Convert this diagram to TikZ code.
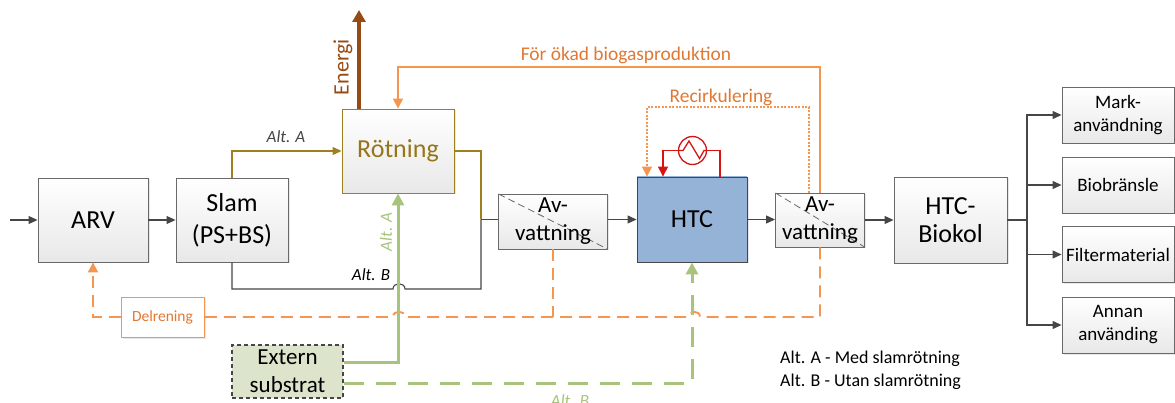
\documentclass[tikz,border=0pt]{standalone}
\usepackage{fontspec}
\setmainfont{Carlito}
\usetikzlibrary{arrows.meta,shadows}
\definecolor{bgray}{RGB}{105,105,105}
\definecolor{lgray}{RGB}{70,70,70}
\definecolor{gold}{RGB}{160,128,30}
\definecolor{goldtxt}{RGB}{150,118,25}
\definecolor{brownE}{RGB}{150,75,20}
\definecolor{orcol}{RGB}{244,150,80}
\definecolor{otxt}{RGB}{225,120,50}
\definecolor{grcol}{RGB}{168,196,124}
\definecolor{gfill}{RGB}{220,228,204}
\definecolor{htcblue}{RGB}{149,179,215}
\definecolor{hxred}{RGB}{215,20,20}
\tikzset{
  box/.style={draw=bgray, line width=0.9pt, top color=white, bottom color=black!9,
    align=center, inner sep=0pt,
    drop shadow={opacity=0.18,shadow xshift=1.5pt,shadow yshift=-1.5pt}},
  avbox/.style={box, path picture={\draw[bgray, line width=0.8pt, dash pattern=on 7pt off 4pt]
    (path picture bounding box.north west) -- (path picture bounding box.south east);}},
  arr/.style={-{Triangle[length=9pt,width=8pt]}},
  cline/.style={draw=lgray, line width=1.1pt},
  goldline/.style={draw=gold, line width=1.1pt},
  osolid/.style={draw=orcol, line width=1.5pt},
  odash/.style={draw=orcol, line width=1.9pt, dash pattern=on 12pt off 7pt},
  odot/.style={draw=orcol, line width=1.4pt, dash pattern=on 2pt off 1.5pt},
  gsolid/.style={draw=grcol, line width=3pt},
  gdash/.style={draw=grcol, line width=3pt, dash pattern=on 20pt off 12pt},
  hxline/.style={draw=hxred, line width=1.3pt},
  lbl/.style={inner sep=0pt},
}
\begin{document}
\begin{tikzpicture}[x=1pt,y=-1pt]
\useasboundingbox (0,0) rectangle (1175,403);
\fill[white] (0,0) rectangle (1175,403);

% main nodes
\node[box, minimum width=110pt, minimum height=84pt, font=\fontsize{26}{30}\selectfont] (arv) at (93,220) {ARV};
\node[box, minimum width=112pt, minimum height=84pt, font=\fontsize{26}{32}\selectfont] (slam) at (232,220) {Slam\\(PS+BS)};
\node[box, draw=gold, minimum width=112pt, minimum height=84pt, text=goldtxt, font=\fontsize{26}{30}\selectfont] (rot) at (398,151) {Rötning};
\node[avbox, minimum width=109pt, minimum height=55pt, font=\fontsize{23}{28}\selectfont] (av1) at (553,221.5) {Av-\\vattning};
\node[box, fill=htcblue, top color=htcblue, bottom color=htcblue, draw=lgray, minimum width=110pt, minimum height=85pt, font=\fontsize{26}{30}\selectfont] (htc) at (692,219.5) {HTC};
\node[avbox, minimum width=89pt, minimum height=54pt, font=\fontsize{23}{28}\selectfont] (av2) at (820,220) {Av-\\vattning};
\node[box, minimum width=113pt, minimum height=86pt, font=\fontsize{26}{28}\selectfont] (bio) at (950.5,220) {HTC-\\Biokol};
\node[box, minimum width=112pt, minimum height=56pt, font=\fontsize{19}{23}\selectfont] (mark) at (1118,115) {Mark-\\användning};
\node[box, minimum width=112pt, minimum height=56pt, font=\fontsize{19}{23}\selectfont] (biob) at (1118,185) {Biobränsle};
\node[box, minimum width=112pt, minimum height=56pt, font=\fontsize{19}{23}\selectfont] (filt) at (1118,254.5) {Filtermaterial};
\node[box, minimum width=112pt, minimum height=56pt, font=\fontsize{19}{23}\selectfont] (annan) at (1118,325) {Annan\\använding};
\node[box, draw=orcol, text=otxt, top color=white, bottom color=white, minimum width=83pt, minimum height=40pt, font=\fontsize{15.5}{18}\selectfont] (delr) at (162.5,317) {Delrening};
\node[draw=lgray, line width=1.1pt, dash pattern=on 4pt off 3pt, fill=gfill, align=center, inner sep=0pt, minimum width=111pt, minimum height=53pt, font=\fontsize{23}{28}\selectfont] (ext) at (287.5,371.5) {Extern\\substrat};
\node[circle, draw=hxred, line width=1.3pt, minimum size=28pt, inner sep=0pt] (hx) at (692.5,150.5) {};

% coordinates
\coordinate (in) at (10,220);
\coordinate (jn) at (481,219.5);
\coordinate (br) at (1027,220);
\coordinate (fo1) at (820,67);
\coordinate (fo2) at (398,67);
\coordinate (rc1) at (809,107);
\coordinate (rc2) at (647,107);
\coordinate (hx1) at (720,150.5);
\coordinate (hx2) at (663,150.5);
\coordinate (ga) at (398,362);
\coordinate (gb) at (692,383);
\coordinate (en) at (359,10);

% gray flow
\draw[cline, arr] (in) -- (arv);
\draw[cline, arr] (arv) -- (slam);
\draw[goldline, arr] (slam.north) |- (rot.west);
\node[lbl, font=\fontsize{17}{20}\selectfont\itshape, text=lgray] (lA) at (286,137) {Alt. A};
\draw[goldline] (rot.east) -| (jn);
\draw[cline] (jn) -- (jn -| av1.west);
\draw[cline] (slam.south) -- (232,289) -- (393,289) .. controls (393,282) and (405,282) .. (405,289) -- (481,289) -- (jn);
\node[lbl, font=\fontsize{17}{20}\selectfont\itshape, text=black] (lB) at (371,275) {Alt. B};
\draw[cline, arr] (av1.east |- htc.west) -- (htc.west);
\draw[cline, arr] (htc.east) -- (htc.east -| av2.west);
\draw[cline, arr] (av2.east) -- (av2.east -| bio.west);
\draw[cline] (bio.east) -- (br);
\draw[cline, arr] (br) |- (mark.west);
\draw[cline, arr] (br) |- (biob.west);
\draw[cline, arr] (br) |- (filt.west);
\draw[cline, arr] (br) |- (annan.west);

% energy
\draw[draw=brownE, line width=3.5pt, -{Triangle[length=12pt,width=13pt]}] (rot.north -| en) -- (en);
\node[lbl, rotate=90, text=brownE, font=\fontsize{22}{26}\selectfont] (eng) at (343,67) {Energi};

% orange biogas return
\draw[osolid, -{Triangle[length=10pt,width=10pt]}] (av2.north) -- (fo1) -- (fo2) -- (rot.north);
\node[lbl, text=otxt, font=\fontsize{19.4}{23}\selectfont] (lfo) at (626,55) {För ökad biogasproduktion};

% recirculation
\draw[odot, -{Triangle[length=10pt,width=10pt]}] (av2.north -| rc1) -- (rc1) -- (rc2) -- (rc2 |- htc.north);
\node[lbl, text=otxt, font=\fontsize{19.4}{23}\selectfont] (lrc) at (721,97) {Recirkulering};

% heat exchanger
\draw[hxline] (htc.north -| hx1) -- (hx1) -- (hx.east);
\draw[hxline, -{Triangle[length=10pt,width=10pt]}] (hx.west) -- (hx2) -- (hx2 |- htc.north);
\draw[hxline] (678.5,150.5) -- (683,150.5) -- (689,141) -- (699.5,158.5) -- (704,150.5) -- (706.5,150.5);

% orange dashed (Delrening)
\draw[odash] (av2.south) -- (820,317) -- (700,317) .. controls (700,310) and (688,310) .. (688,317) -- (405,317) .. controls (405,310) and (393,310) .. (393,317) -- (delr.east);
\draw[odash] (av1.south) -- (av1.south |- delr.east);
\draw[odash, -{Triangle[length=10pt,width=10pt]}] (delr.west) -| (arv.south);

% green
\draw[gsolid, -{Triangle[length=12pt,width=12pt]}] (ext.east |- ga) -- (ga) -- (rot.south);
\node[lbl, rotate=90, text=grcol, font=\fontsize{17}{20}\selectfont\itshape] (lgA) at (386,232) {Alt. A};
\draw[gdash, -{Triangle[length=12pt,width=12pt]}] (ext.east |- gb) -- (gb) -- (htc.south);
\node[lbl, text=grcol, font=\fontsize{17}{20}\selectfont\itshape] (lgB) at (570,401) {Alt. B};

% legend
\node[lbl, anchor=west, font=\fontsize{18}{22}\selectfont] (leg1) at (780,359) {Alt. A - Med slamrötning};
\node[lbl, anchor=west, font=\fontsize{18}{22}\selectfont] (leg2) at (780,382) {Alt. B - Utan slamrötning};
\end{tikzpicture}
\end{document}
